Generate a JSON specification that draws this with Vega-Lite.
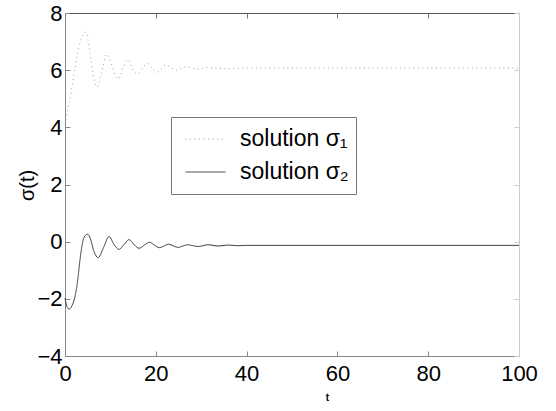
{
  "$schema": "https://vega.github.io/schema/vega-lite/v6.json",
  "width": 454,
  "height": 343,
  "autosize": {"type": "none"},
  "padding": {"left": 65, "top": 13, "right": 37, "bottom": 55},
  "background": "white",
  "config": {
    "view": {"stroke": null},
    "font": "Liberation Sans",
    "axis": {"grid": false, "labelFlush": false, "labelColor": "black", "titleColor": "black"},
    "legend": {
      "orient": "none",
      "legendX": 106,
      "legendY": 104,
      "padding": 7,
      "fillColor": "white",
      "strokeColor": "#777",
      "symbolType": "stroke",
      "symbolSize": 1600,
      "symbolStrokeWidth": 1,
      "clipHeight": 30,
      "rowPadding": 3,
      "labelFontSize": 23,
      "labelOffset": 14,
      "symbolOffset": 7,
      "labelColor": "black",
      "labelLimit": 300
    }
  },
  "data": {
    "values": [
      {"t": 0, "v": 4.1, "s": "solution σ₁"},
      {"t": 0.5, "v": 4.55, "s": "solution σ₁"},
      {"t": 1.1, "v": 5.0, "s": "solution σ₁"},
      {"t": 2.2, "v": 6.06, "s": "solution σ₁"},
      {"t": 3.3, "v": 6.96, "s": "solution σ₁"},
      {"t": 4.0, "v": 7.25, "s": "solution σ₁"},
      {"t": 4.6, "v": 7.33, "s": "solution σ₁"},
      {"t": 5.5, "v": 6.63, "s": "solution σ₁"},
      {"t": 6.2, "v": 5.83, "s": "solution σ₁"},
      {"t": 7.0, "v": 5.41, "s": "solution σ₁"},
      {"t": 8.1, "v": 5.93, "s": "solution σ₁"},
      {"t": 9.2, "v": 6.56, "s": "solution σ₁"},
      {"t": 10.3, "v": 6.18, "s": "solution σ₁"},
      {"t": 11.0, "v": 5.83, "s": "solution σ₁"},
      {"t": 11.7, "v": 5.69, "s": "solution σ₁"},
      {"t": 12.8, "v": 6.1, "s": "solution σ₁"},
      {"t": 13.9, "v": 6.37, "s": "solution σ₁"},
      {"t": 15.0, "v": 6.0, "s": "solution σ₁"},
      {"t": 15.9, "v": 5.86, "s": "solution σ₁"},
      {"t": 17.2, "v": 6.1, "s": "solution σ₁"},
      {"t": 18.0, "v": 6.24, "s": "solution σ₁"},
      {"t": 19.1, "v": 6.1, "s": "solution σ₁"},
      {"t": 20.3, "v": 5.93, "s": "solution σ₁"},
      {"t": 22.2, "v": 6.18, "s": "solution σ₁"},
      {"t": 24.6, "v": 6.0, "s": "solution σ₁"},
      {"t": 26.8, "v": 6.12, "s": "solution σ₁"},
      {"t": 29.0, "v": 6.03, "s": "solution σ₁"},
      {"t": 31.5, "v": 6.09, "s": "solution σ₁"},
      {"t": 35.0, "v": 6.05, "s": "solution σ₁"},
      {"t": 40.0, "v": 6.07, "s": "solution σ₁"},
      {"t": 100.0, "v": 6.07, "s": "solution σ₁"},
      {"t": 0, "v": -1.97, "s": "solution σ₂"},
      {"t": 0.5, "v": -2.3, "s": "solution σ₂"},
      {"t": 0.95, "v": -2.36, "s": "solution σ₂"},
      {"t": 1.5, "v": -2.25, "s": "solution σ₂"},
      {"t": 2.2, "v": -1.92, "s": "solution σ₂"},
      {"t": 2.8, "v": -1.35, "s": "solution σ₂"},
      {"t": 3.3, "v": -0.64, "s": "solution σ₂"},
      {"t": 4.0, "v": 0.06, "s": "solution σ₂"},
      {"t": 4.5, "v": 0.22, "s": "solution σ₂"},
      {"t": 5.0, "v": 0.26, "s": "solution σ₂"},
      {"t": 5.6, "v": 0.1, "s": "solution σ₂"},
      {"t": 6.3, "v": -0.3, "s": "solution σ₂"},
      {"t": 7.3, "v": -0.56, "s": "solution σ₂"},
      {"t": 8.5, "v": -0.2, "s": "solution σ₂"},
      {"t": 9.7, "v": 0.18, "s": "solution σ₂"},
      {"t": 10.8, "v": -0.1, "s": "solution σ₂"},
      {"t": 11.9, "v": -0.27, "s": "solution σ₂"},
      {"t": 13.0, "v": -0.1, "s": "solution σ₂"},
      {"t": 14.1, "v": 0.07, "s": "solution σ₂"},
      {"t": 15.2, "v": -0.1, "s": "solution σ₂"},
      {"t": 16.3, "v": -0.23, "s": "solution σ₂"},
      {"t": 17.5, "v": -0.12, "s": "solution σ₂"},
      {"t": 18.6, "v": -0.02, "s": "solution σ₂"},
      {"t": 19.7, "v": -0.12, "s": "solution σ₂"},
      {"t": 20.8, "v": -0.21, "s": "solution σ₂"},
      {"t": 21.8, "v": -0.15, "s": "solution σ₂"},
      {"t": 22.8, "v": -0.09, "s": "solution σ₂"},
      {"t": 23.9, "v": -0.15, "s": "solution σ₂"},
      {"t": 24.9, "v": -0.2, "s": "solution σ₂"},
      {"t": 26.0, "v": -0.15, "s": "solution σ₂"},
      {"t": 27.0, "v": -0.11, "s": "solution σ₂"},
      {"t": 28.2, "v": -0.14, "s": "solution σ₂"},
      {"t": 29.3, "v": -0.17, "s": "solution σ₂"},
      {"t": 31.5, "v": -0.11, "s": "solution σ₂"},
      {"t": 33.7, "v": -0.15, "s": "solution σ₂"},
      {"t": 36.0, "v": -0.12, "s": "solution σ₂"},
      {"t": 38.0, "v": -0.14, "s": "solution σ₂"},
      {"t": 40.0, "v": -0.13, "s": "solution σ₂"},
      {"t": 100.0, "v": -0.13, "s": "solution σ₂"}
    ]
  },
  "layer": [
    {
      "mark": {"type": "line", "opacity": 0},
      "encoding": {
        "x": {
          "field": "t", "type": "quantitative",
          "scale": {"domain": [0, 100], "nice": false},
          "axis": {"orient": "top", "labels": false, "title": null, "values": [0, 20, 40, 60, 80, 100], "tickSize": -5, "domainColor": "#555", "tickColor": "#777"}
        },
        "y": {
          "field": "v", "type": "quantitative",
          "scale": {"domain": [-4, 8], "nice": false},
          "axis": {"orient": "right", "labels": false, "title": null, "values": [-4, -2, 0, 2, 4, 6, 8], "tickSize": -5, "domainColor": "#ccc", "tickColor": "#ccc"}
        },
        "detail": {"field": "s"}
      }
    },
    {
      "mark": {"type": "line", "interpolate": "monotone", "strokeWidth": 1},
      "encoding": {
        "x": {
          "field": "t", "type": "quantitative",
          "scale": {"domain": [0, 100], "nice": false},
          "axis": {"orient": "bottom", "values": [0, 20, 40, 60, 80, 100], "tickSize": -5, "domainColor": "#888", "tickColor": "#888", "labelFontSize": 22, "labelPadding": 12, "title": "t", "titleFontSize": 10, "titleFontWeight": "bold", "titleX": 262, "titleY": 46, "titleBaseline": "bottom"}
        },
        "y": {
          "field": "v", "type": "quantitative",
          "scale": {"domain": [-4, 8], "nice": false},
          "axis": {"orient": "left", "values": [-4, -2, 0, 2, 4, 6, 8], "tickSize": -5, "domainColor": "#888", "tickColor": "#888", "labelFontSize": 22, "labelPadding": 8, "title": "σ(t)", "titleFontSize": 20, "titleFontWeight": "normal", "titleAngle": -90, "titleX": -38, "titleY": 172, "titleAlign": "center", "titleBaseline": "middle"}
        },
        "color": {
          "field": "s", "type": "nominal",
          "scale": {"domain": ["solution σ₁", "solution σ₂"], "range": ["#a0a0a0", "#383838"]},
          "legend": {"title": null}
        },
        "strokeDash": {
          "field": "s", "type": "nominal",
          "scale": {"domain": ["solution σ₁", "solution σ₂"], "range": [[1, 3.5], [1, 0]]},
          "legend": {"title": null}
        }
      }
    }
  ],
  "resolve": {"axis": {"x": "independent", "y": "independent"}}
}
